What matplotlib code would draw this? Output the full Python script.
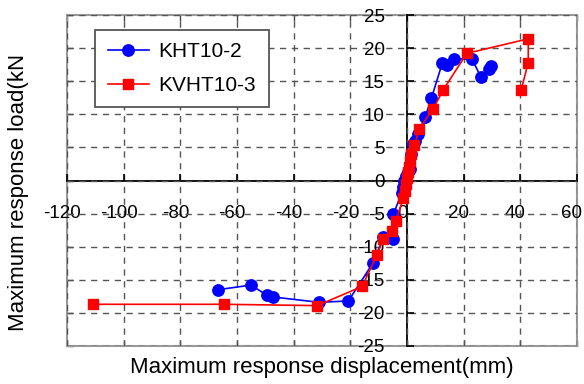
import matplotlib
matplotlib.use("Agg")
import matplotlib.pyplot as plt
from matplotlib.transforms import ScaledTranslation

plt.rcParams['font.family'] = ['Liberation Sans', 'DejaVu Sans']
plt.rcParams['axes.unicode_minus'] = False

# ---- data ----
kht_x = [-66.8, -55.1, -49.5, -47.2, -31.0, -20.7, -11.9, -8.4, -5.1, -4.8,
         -1.9, -1.4, -1.0, -0.4, 0.3, 1.1, 1.4, 2.0, 2.8, 3.8, 6.4, 8.6,
         12.5, 14.2, 16.6, 23.0, 26.1, 29.1, 29.6]
kht_y = [-16.5, -15.8, -17.3, -17.6, -18.4, -18.2, -12.4, -8.6, -8.8, -5.1,
         -1.9, -1.0, 0.0, 0.7, 1.3, 1.8, 4.0, 5.5, 5.9, 7.0, 9.6, 12.4,
         17.8, 17.4, 18.4, 18.3, 15.6, 16.8, 17.3]

kvht_x = [-110.9, -64.6, -31.7, -15.8, -10.7, -8.4, -5.4, -3.9, -1.3, -0.7,
          -0.3, 0.1, 0.4, 0.7, 1.0, 1.5, 2.6, 4.3, 9.2, 12.8, 21.1, 42.8, 42.8, 40.3]
kvht_y = [-18.7, -18.7, -18.9, -16.0, -11.3, -8.8, -7.6, -6.1, -2.7, -1.6,
          -0.6, 0.4, 1.3, 2.1, 3.0, 4.0, 5.3, 7.8, 10.8, 13.7, 19.2, 21.4, 17.8, 13.7]

x_ticks = [-120, -100, -80, -60, -40, -20, 0, 20, 40, 60]
y_ticks = [-25, -20, -15, -10, -5, 0, 5, 10, 15, 20, 25]
xlabel = "Maximum response displacement(mm)"
ylabel = "Maximum response load(kN"
names = ["KHT10-2", "KVHT10-3"]

fig = plt.figure(figsize=(5.84, 3.84), dpi=100)
rect = [67/584, 1-346/384, 510/584, 331/384]

# frame axes (gray box with inner ticks)
fax = fig.add_axes(rect)
fax.set_xlim(-120, 60)
fax.set_ylim(-25, 25)
for s in fax.spines.values():
    s.set_color('#999999')
    s.set_linewidth(1.5)
fax.set_xticks(x_ticks)
fax.set_yticks(y_ticks)
fax.tick_params(direction='in', length=4, width=1, color='#444444',
                top=True, bottom=True, left=True, right=False,
                labelbottom=False, labelleft=False)

# main axes with centered spines
ax = fig.add_axes(rect, sharex=fax, sharey=fax)
ax.patch.set_alpha(0)
ax.spines['left'].set_position(('data', 0))
ax.spines['bottom'].set_position(('data', 0))
ax.spines['right'].set_visible(False)
ax.spines['top'].set_visible(False)
for k in ('left', 'bottom'):
    ax.spines[k].set_color('black')
    ax.spines[k].set_linewidth(1.3)
ax.set_xticks(x_ticks)
ax.set_yticks(y_ticks)
ax.set_xticklabels([str(v) for v in x_ticks])
ax.set_yticklabels([str(v) for v in y_ticks])
ax.tick_params(axis='y', direction='in', length=5, width=1.2, pad=16, labelsize=13.5)
ax.tick_params(axis='x', direction='in', length=5, width=1.2, pad=17.5, labelsize=13.5)
shift = ScaledTranslation(-5/100, 0, fig.dpi_scale_trans)
for lab in ax.get_xticklabels():
    lab.set_transform(lab.get_transform() + shift)
ax.grid(True, linestyle=(0, (4.5, 4)), color='#555555', linewidth=1.0)
ax.set_axisbelow(False)

ax.plot(kht_x, kht_y, color='#0000ff', marker='o', markersize=8.2, linewidth=1.2,
        label=names[0], clip_on=False, zorder=3)
ax.plot(kvht_x, kvht_y, color='#ff0000', marker='s', markersize=6.5, linewidth=1.2,
        label=names[1], clip_on=False, zorder=4)

leg = ax.legend(loc='upper left', bbox_to_anchor=(0.055, 0.955), borderaxespad=0,
                fancybox=False, framealpha=1, edgecolor='#555555', fontsize=15,
                handlelength=2.0, handletextpad=0.45, borderpad=0.6, labelspacing=0.7)
leg.get_frame().set_linewidth(1.3)

fig.text(322/584, 1-368/384, xlabel, ha='center', va='center', fontsize=16)
fig.text(19/584, 1-192/384, ylabel, ha='center', va='center', rotation=90, fontsize=16)

fig.savefig("out.png", dpi=100)
